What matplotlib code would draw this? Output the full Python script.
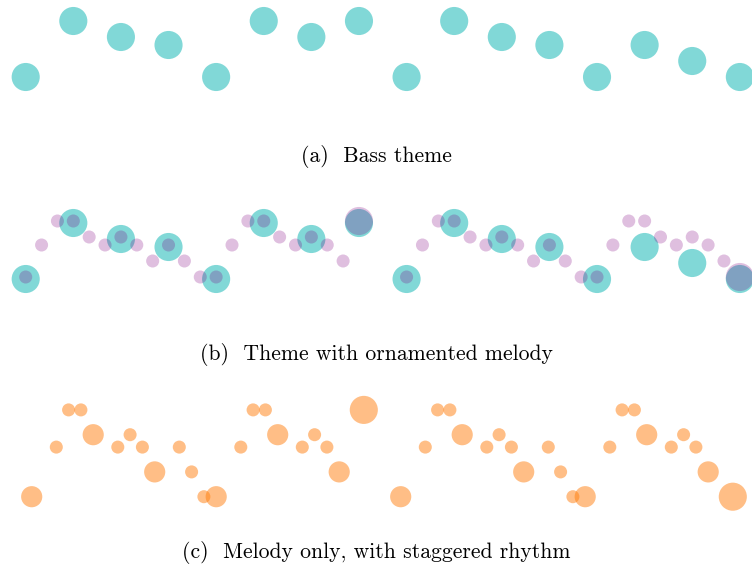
import numpy as np
import matplotlib
matplotlib.use("Agg")
import matplotlib.pyplot as plt

# pitches in semitones above the tonic, times in grid steps
bass_steps = [0, 3, 6, 9, 12, 15, 18, 21, 24, 27, 30, 33, 36, 39, 42, 45]
bass_pitch = [0, 7, 5, 4, 0, 7, 5, 7, 0, 7, 5, 4, 0, 4, 2, 0]
bass_dur = [3] * 16

melody_pitch = [0, 4, 7, 7, 5, 4, 5, 4, 2, 4, 2, 0, 0, 4, 7, 7, 5, 4, 5, 4, 2, 7,
                0, 4, 7, 7, 5, 4, 5, 4, 2, 4, 2, 0, 0, 4, 7, 7, 5, 4, 5, 4, 2, 0]
# even rhythm (three notes per bass note)
melody_steps_b = [0, 1, 2, 3, 4, 5, 6, 7, 8, 9, 10, 11, 12, 13, 14, 15, 16, 17, 18, 19, 20, 21,
                  24, 25, 26, 27, 28, 29, 30, 31, 32, 33, 34, 35, 36, 37, 38, 39, 40, 41, 42, 43, 44, 45]
melody_dur_b = [1] * 21 + [3] + [1] * 21 + [3]
# staggered rhythm
melody_steps_c = [0, 2, 3, 4, 5, 7, 8, 9, 10, 12, 13, 14, 15, 17, 18, 19, 20, 22, 23, 24, 25, 27,
                  30, 32, 33, 34, 35, 37, 38, 39, 40, 42, 43, 44, 45, 47, 48, 49, 50, 52, 53, 54, 55, 57]
melody_dur_c = [2, 1, 1, 1, 2, 1, 1, 1, 2, 1, 1, 1, 2, 1, 1, 1, 2, 1, 1, 1, 2, 3,
                2, 1, 1, 1, 2, 1, 1, 1, 2, 1, 1, 1, 2, 1, 1, 1, 2, 1, 1, 1, 2, 3]

captions = ["(a)  Bass theme", "(b)  Theme with ornamented melody",
            "(c)  Melody only, with staggered rhythm"]

TEAL = "#2ebfbd"
PURPLE = "#800080"
ORANGE = "#ff7f0e"

W, H = 752, 571


def size(d):
    return 88 * np.asarray(d, dtype=float) ** 1.4


def panel(top, bottom, x0, dx, y0, dy):
    # axes spanning pixel rows top..bottom, data mapped so that
    # step 0 -> x0 px (dx px per step), pitch 0 -> y0 px (dy px per semitone)
    ax = fig.add_axes([0, 1 - bottom / H, 1, (bottom - top) / H])
    ax.set_xlim(-x0 / dx, (W - x0) / dx)
    ax.set_ylim((y0 - bottom) / dy, (y0 - top) / dy)
    ax.axis("off")
    return ax


fig = plt.figure(figsize=(W / 100, H / 100), dpi=100)

ax = panel(0, 140, 25.7, 15.87, 77, 8)
ax.scatter(bass_steps, bass_pitch, s=size(bass_dur), color=TEAL, alpha=0.6, lw=0)

ax = panel(185, 335, 25.7, 15.87, 279, 8)
ax.scatter(bass_steps, bass_pitch, s=size(bass_dur), color=TEAL, alpha=0.6, lw=0)
ax.scatter(melody_steps_b, np.array(melody_pitch) + 0.25, s=size(melody_dur_b),
           color=PURPLE, alpha=0.25, lw=0)

ax = panel(380, 535, 31.7, 12.3, 496.7, 12.4)
ax.scatter(melody_steps_c, melody_pitch, s=size(melody_dur_c), color=ORANGE, alpha=0.5, lw=0)

for cap, y in zip(captions, [157, 354, 553]):
    fig.text(0.5, 1 - y / H, cap, ha="center", va="center", fontsize=15.6, family="cmr10")

fig.savefig("out.png", dpi=100)
